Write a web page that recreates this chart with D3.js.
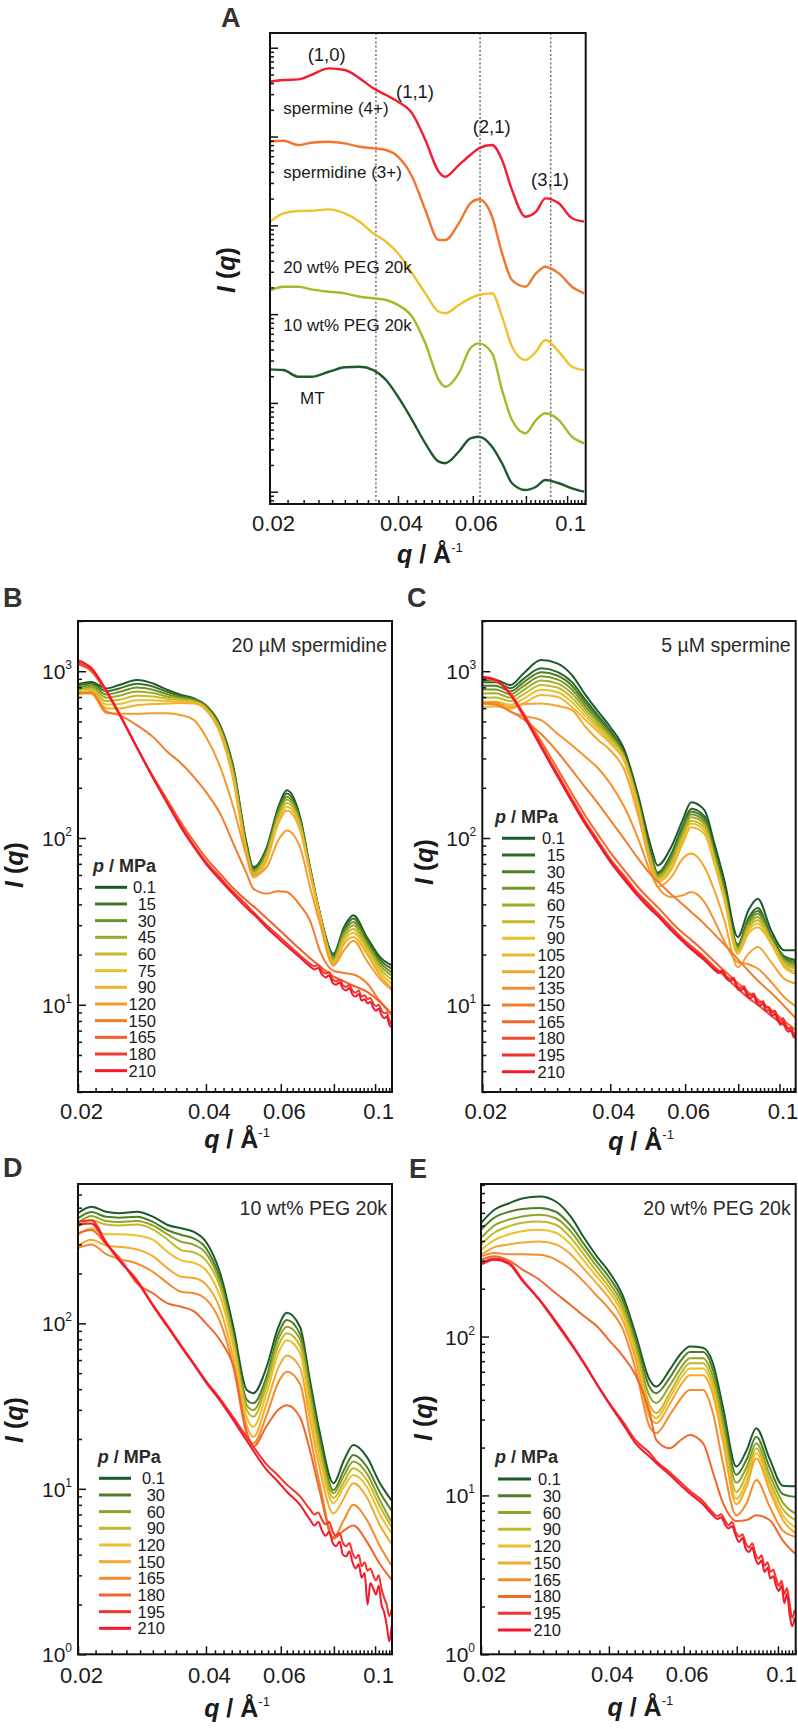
<!DOCTYPE html>
<html><head><meta charset="utf-8">
<script src="https://cdn.jsdelivr.net/npm/d3@7"></script>
<style>body{margin:0;background:#fff}svg{display:block}</style>
</head><body><svg id="c" width="798" height="1729"></svg>
<script>
// ---------- shared q grid (Å^-1) ----------
const qGrid = [0.020,0.0215,0.0233,0.025,0.0275,0.030,0.0325,0.035,0.0375,0.040,0.0432,0.0464,0.0499,0.0517,0.0556,0.0592,0.062,0.0666,0.0703,0.0742,0.0798,0.0845,0.0889,0.0956,0.1027,0.1097];
// finer q grid for the noisy high-q tails of the high-pressure curves (starts at 0.0703)
const qTail = [0.0703,0.072,0.0735,0.075,0.0765,0.078,0.0795,0.081,0.0825,0.084,0.0855,0.087,0.0885,0.09,0.0915,0.093,0.0945,0.096,0.0975,0.099,0.1005,0.102,0.1035,0.105,0.1065,0.108,0.1095];
const xTickValues = [0.02,0.04,0.06,0.08,0.1];
const xTickLabels = ["0.02","0.04","0.06","","0.1"];

// ---------- Panel A (log10 of offset intensity) ----------
const A_names = ["spermine (4+)","spermidine (3+)","20 wt% PEG 20k","10 wt% PEG 20k","MT"];
const A_spermine = [4.617,4.636,4.644,4.693,4.768,4.749,4.655,4.543,4.467,4.392,4.261,3.961,3.604,3.547,3.679,3.792,3.867,3.904,3.735,3.398,3.097,3.153,3.304,3.248,3.079,3.041];
const A_spermidine = [3.941,3.953,3.904,3.930,3.941,3.923,3.885,3.867,3.848,3.773,3.547,3.172,2.834,2.834,3.022,3.248,3.293,3.097,2.685,2.384,2.309,2.459,2.534,2.459,2.309,2.234];
const A_peg20 = [3.041,3.135,3.161,3.164,3.180,3.135,3.041,2.910,2.815,2.685,2.459,2.234,2.027,2.009,2.102,2.178,2.215,2.234,1.971,1.633,1.483,1.577,1.708,1.577,1.408,1.370];
const A_peg10 = [2.268,2.309,2.309,2.279,2.252,2.234,2.196,2.178,2.159,2.102,1.971,1.671,1.258,1.182,1.333,1.615,1.671,1.559,1.145,0.807,0.658,0.807,0.883,0.807,0.619,0.545];
const A_mt = [1.378,1.370,1.295,1.295,1.351,1.401,1.408,1.370,1.258,1.070,0.807,0.545,0.338,0.320,0.450,0.601,0.619,0.507,0.320,0.095,0.019,0.056,0.132,0.095,0.038,0.0];
const A_peakLabels = ["(1,0)","(1,1)","(2,1)","(3,1)"];
const A_dottedQ = [0.0355,0.0624,0.0915];

// ---------- Panel B: 20 µM spermidine ----------
const B_p = ["0.1","15","30","45","60","75","90","120","150","165","180","210"];
const B_01 = [837,863,788,826,885,845,771,720,687,626,475,267,92,67,88,153,193,134,67,35.2,20.2,29.2,34.4,25.5,19.3,17.2];
const B_15 = [820,843,757,788,842,810,749,707,679,619,466,260,90,65.5,85.6,148,185,130,66,35,19.7,28.2,32.9,24.6,18.6,16.4];
const B_30 = [802,822,725,750,799,775,727,695,671,612,458,252,87,64,83.2,143,177,126,65,34.7,19.2,27.2,31.4,23.7,17.9,15.6];
const B_45 = [784,802,694,712,756,740,705,682,663,605,449,244,85,62.5,80.8,137,170,122,64,34.4,18.7,26.2,30,22.9,17.2,14.9];
const B_60 = [766,781,663,674,712,705,684,670,656,599,440,237,82,61,78.3,132,162,119,63,34.1,18.2,25.2,28.5,22,16.4,14.1];
const B_75 = [748,761,631,636,669,670,662,657,648,592,432,229,80,59.5,75.9,127,154,115,62,33.9,17.7,24.2,27,21.1,15.7,13.3];
const B_90 = [730,740,600,598,626,635,640,645,640,585,423,222,77,58,73.5,122,146,111,61,33.6,17.2,23.2,25.5,20.2,15,12.5];
const B_120 = [740,735,561,555,555,560,560,545,509,404,267,153,77,59.7,67,97,111,88,50.8,30.6,17.2,21.2,24.2,18.4,14.3,12.2];
const B_150 = [736,745,575,545,475,404,328,280,232,189,140,92.5,61,49.7,46.4,48,47.4,39.5,32,21,16,15.5,15.2,13.5,10.5,8.8];
const B_165 = [1100,1000,750,550,350,235,168,123,95,76,61,50,42,39,33,28.5,25.5,21.5,19,17,14.8,13.8,13,12,10.4,8.6];
// high-pressure curves: low-q part on qGrid (up to 0.0703) + noisy tail on qTail
const B_180 = [1130,1020,760,555,350,232,163,118,90,72,58,47.5,39.5,36,30,26,23.3,19.8,17.6];
const B_180_tail = [17.6,17,17.3,16,15.4,15.7,14.2,13.8,14.2,13.1,12.8,13.2,12.1,11.8,12.2,11.2,11.4,10.8,11,10.2,9.8,10,9.3,8.9,9,8.1,7.6];
const B_210 = [1166,1045,771,560,350,230,160,115,88,70,56,46,38,35,29,25,22.5,19.2,17];
const B_210_tail = [17,16.3,16.6,15.2,14.6,15,13.5,13.2,13.6,12.5,12.2,12.6,11.5,11.2,11.6,10.6,10.8,10.2,10.4,9.6,9.2,9.5,8.7,8.3,8.5,7.6,7.3];

// ---------- Panel C: 5 µM spermine ----------
const C_p = ["0.1","15","30","45","60","75","90","105","120","135","150","165","180","195","210"];
const C_01 = [885,885,826,970,1166,1114,948,719,570,463,336,185,88,68.5,88,128,164,147,92.5,55.7,25.5,36.8,43.3,27.9,21.2,21.2];
const C_15 = [860,860,790,900,1040,990,860,670,540,440,320,175,80,62,80,118,150,135,85,50,23,33,38,26,19.5,18.5];
const C_30 = [819,819,758,857,987,942,819,643,522,428,314,171,78,60.8,77.3,114,144,130,82.5,48.7,22.5,32,36.5,25.5,19,18];
const C_45 = [777,778,726,814,933,894,777,616,504,416,309,168,76,59.5,74.7,110,139,125,80,47.4,22.1,30.9,35.1,25.1,18.6,17.4];
const C_60 = [736,737,694,771,880,846,736,590,486,405,303,164,73.5,58.3,72,105,133,121,77.5,46.2,21.6,29.9,33.6,24.6,18.2,16.9];
const C_75 = [694,696,662,727,827,798,694,563,468,393,297,160,71,57,69.3,101,127,116,75,44.9,21.1,28.8,32.1,24.1,17.7,16.4];
const C_90 = [653,655,630,684,773,750,653,536,450,381,292,157,69,55.8,66.7,97,122,111,72.5,43.6,20.7,27.8,30.7,23.7,17.3,15.8];
const C_105 = [611,614,598,641,720,702,611,509,432,369,286,153,67,54.5,64,92.5,116,106,70,42.3,20.2,26.7,29.2,23.2,16.8,15.3];
const C_120 = [640,640,610,635,641,620,585,463,386,336,255,140,67,51,58,75.1,80.6,67,48.5,32.1,16.8,20.2,22.2,18,14.3,13.4];
const C_135 = [650,650,570,540,509,423,360,306,261,212,153,101,61,51,44.3,45.3,47.4,41.3,32,24,18,17.5,16.5,13.7,11.1,9.7];
const C_150 = [640,630,575,515,420,330,255,200,160,128,98,76,60,55,46,40,36,30.5,26.5,23,18.8,16,14,11.8,9.8,8.2];
const C_165 = [900,870,740,560,380,262,185,135,104,82,64,51,42,38.5,31.5,27,24.5,20.8,18.2,16,13.5,11.9,10.8,9.3,8,7.0];
const C_180 = [915,880,730,550,362,245,172,125,96,75,59,47,39,35.5,29.3,25,22.5,19.3,16.9,14.9,12.5,11,10,8.6,7.5,6.6];
const C_195 = [920,885,725,545,355,240,168,122,94,73.5,57.5,46,38,34.7,28.6,24.5,22,18.9,16.5];
const C_195_tail = [16.5,15.9,16.1,14.8,14.3,14.5,13,12.6,12.9,11.7,11.4,11.7,10.6,10.3,10.5,9.6,9.7,9.0,9.2,8.5,8.0,8.3,7.6,7.2,7.3,6.7,6.4];
const C_210 = [925,890,720,540,350,235,165,120,92,72,56,45,37,34,28,24,21.5,18.5,16.2];
const C_210_tail = [16.2,15.5,15.8,14.4,13.9,14.2,12.6,12.2,12.5,11.3,11,11.3,10.2,9.9,10.1,9.2,9.3,8.6,8.8,8.1,7.6,7.9,7.2,6.9,7.0,6.4,6.3];

// ---------- Panel D: 10 wt% PEG 20k ----------
const D_p = ["0.1","30","60","90","120","150","165","180","195","210"];
const D_01 = [463,507,472,463,472,441,393,375,357,311,201,95,39.5,37.8,54.7,95,116,95,45,21.6,10.8,14.9,18.4,15.6,10.8,8.4];
const D_30 = [431,470,440,435,440,410,365,342,325,285,185,85,34.5,32.9,48,86,104.7,86,41,19.5,9.8,13,16,13.6,9.5,7.3];
const D_60 = [405,445,415,410,415,390,345,311,298,265,175,82,32,29.9,45,80,95.4,80,38,18,9.4,12,14.6,12.4,8.5,6.2];
const D_90 = [384,420,395,390,395,370,320,277,268,240,165,78,30,27.3,42,73,87,73,34,16.5,8.8,11,13.3,11.3,7.8,5.8];
const D_120 = [342,375,345,345,340,320,270,240,232,210,145,72,27,23.7,38,66,79,66,30,15,8.2,10.3,12.1,10.3,7,5.3];
const D_150 = [295,320,295,290,280,255,215,191,188,172,122,62,24,20.6,33,54,64,54,26,13,7.1,8.8,10.8,8.9,6,4.6];
const D_165 = [285,300,262,245,230,205,175,155,152,140,102,55,21.5,18.8,28,44,51,43,21,10.5,5.1,6.5,8,6.5,4.5,3.4];
const D_180 = [350,366,300,250,175,152,132,126,118,100,79,55,22,18,24,30,32,27,17,9.5,5,5.6,6,4.8,3.5,2.8];
const D_195 = [410,420,310,243,183,130,97,73.5,57,45,35,27,20.5,18,14,12,10.6,9,7.5];
const D_195_tail = [7.5,7.0,7.2,6.5,6.1,6.3,5.5,5.2,5.4,4.7,4.5,4.7,4.1,3.8,4.0,3.4,3.6,3.2,3.3,3.0,2.8,3.0,2.5,2.2,2.0,1.7,1.9];
const D_210 = [393,401,304,240,180,128,95,72,56,44,34,26,19.5,17,13,11,9.6,8,6.5];
const D_210_tail = [6.5,6.0,6.3,5.6,5.2,5.5,4.7,4.5,4.8,4.0,3.9,4.2,3.6,3.3,3.5,2.9,3.1,2.0,2.7,2.5,2.3,2.6,2.0,1.8,1.5,1.2,1.5];

// ---------- Panel E: 20 wt% PEG 20k ----------
const E_p = ["0.1","30","60","90","120","150","165","180","195","210"];
const E_01 = [518,628,690,740,762,708,570,417,319,256,179,100,53.3,48.4,61.7,78.5,86.5,85,67.9,36.2,15.2,19.4,26.5,17,11.5,11.4];
const E_30 = [470,560,610,635,644,610,500,380,295,237,167,93,48,44,55,71,80,80,62,32,13.5,17,23.4,15,10.2,9.8];
const E_60 = [417,500,545,570,584,555,460,352,275,220,155,86,42,38.1,49,64,73,73,56,29,12,15.2,21.3,13.5,9,7.7];
const E_90 = [378,450,495,520,530,505,420,325,255,205,145,80,37,33,44,59,68,68,51,26,10.5,13.8,19.8,12.4,8.2,7.0];
const E_120 = [351,405,440,460,470,450,380,298,237,192,136,75,34,30.7,41,55,63,63,47,24,9.5,12.5,18.4,11.5,7.5,6.3];
const E_150 = [327,365,380,390,397,380,330,265,215,175,125,69,31,28.5,37.5,50,57,57,43,22,8.8,11.5,17.1,10.7,7,5.8];
const E_165 = [319,335,330,330,327,305,265,220,180,150,110,60,27,24.6,32,41,46,46,33,16,7.5,9,12.5,8.5,6.0,5.5];
const E_180 = [304,320,300,265,227,187,158,134,116,95,75,56,33,22.4,19.8,22.4,24,21.3,14,9,6.9,7.0,7.5,7.0,5.2,4.3];
const E_195 = [290,310,292,230,168,122,90,67,50,38.5,29,22,18.5,16.5,14,12,10.7,9.2,7.8];
const E_195_tail = [7.8,7.4,7.6,7.0,6.5,6.8,5.9,5.5,5.7,5.0,4.7,5.0,4.3,4.0,4.2,3.6,3.8,3.3,3.4,3.0,2.7,2.9,2.4,2.6,2.1,1.7,1.9];
const E_210 = [283,304,285,225,170,125,92,68,50,38,28,21,17.5,16,13.5,11.5,10.3,8.8,7.5];
const E_210_tail = [7.5,7.1,7.3,6.6,6.2,6.4,5.6,5.1,5.4,4.6,4.4,4.7,4.0,3.7,3.9,3.3,3.5,3.0,3.1,2.7,2.5,2.7,2.1,2.4,1.8,1.5,1.7];

// ---------- colours ----------
const colB = ["#1b5a2b","#3f7426","#6e8f29","#9aab2c","#c5ba29","#e7c22a","#f1b02d","#f59b2d","#f47c2a","#f45c2b","#f3382c","#f7162b"];
const colC = ["#1b5a2b","#2e6a27","#4e7e26","#779629","#a0ad2c","#c4ba29","#e5c12a","#eeb62c","#f3a52d","#f5922c","#f47d2b","#f4672b","#f34a2c","#f32f2c","#f7162b"];
const colDE = ["#1b5a2b","#4e7e26","#8ea42b","#c2b829","#ecc02a","#f3a92d","#f58b2b","#f4652b","#f3342c","#f7162b"];
const colA = ["#f31c30","#f4742b","#eec22c","#a8b82b","#1f5a2d"];

// ---------- helpers ----------
const FONT = '"Liberation Sans", Arial, Helvetica, sans-serif';
const svg = d3.select("#c");
svg.append("rect").attr("width",798).attr("height",1729).attr("fill","#fff");

// series on the main grid
const S = v => ({q: qGrid, v});
// series = head on qGrid (to 0.0703) + noisy tail on qTail
const ST = (head, tail) => ({q: qGrid.slice(0, head.length).concat(qTail.slice(1)), v: head.concat(tail.slice(1))});

function txt(g, x, y, s, size, opts={}) {
  return g.append("text").attr("x",x).attr("y",y).text(s)
    .attr("font-family",FONT).attr("font-size",size).attr("fill",opts.fill||"#222")
    .attr("text-anchor",opts.anchor||"start").attr("font-weight",opts.weight||"normal");
}

function drawPanel(o) {
  const x = d3.scaleLog().domain(o.xd).range([o.l, o.r]);
  const y = d3.scaleLog().domain(o.yd).range([o.b, o.t]);
  const g = svg.append("g");
  const cid = "clip" + o.id;
  svg.append("clipPath").attr("id", cid).append("rect")
    .attr("x", o.l).attr("y", o.t).attr("width", o.r - o.l).attr("height", o.b - o.t);

  if (o.vlines) o.vlines.forEach(v => g.append("line")
      .attr("x1", x(v)).attr("x2", x(v)).attr("y1", o.t).attr("y2", o.b)
      .attr("stroke", "#707070").attr("stroke-width", 1.5).attr("stroke-dasharray", "2,2.2"));

  const tf = o.tf || (d => d);
  const lg = g.append("g").attr("clip-path", `url(#${cid})`);
  o.series.forEach((s, i) => {
    const pts = s.v.map((v, j) => [s.q[j], v]);
    const line = d3.line().x(d => x(d[0])).y(d => y(tf(d[1]))).curve(d3.curveMonotoneX);
    lg.append("path").attr("d", line(pts)).attr("fill", "none")
      .attr("stroke", o.colors[i]).attr("stroke-width", o.lw).attr("stroke-linejoin", "round");
  });

  // x axis: minor ticks every 0.002, major every 0.02
  const minorX = d3.range(10, 60).filter(k => k % 10 !== 0).map(k => k / 500).filter(v => v <= o.xd[1]);
  const ax1 = g.append("g").attr("transform", `translate(0,${o.b})`)
    .call(d3.axisBottom(x).tickValues(minorX).tickSize(-4).tickFormat(""));
  ax1.select(".domain").remove();
  const ax2 = g.append("g").attr("transform", `translate(0,${o.b})`)
    .call(d3.axisBottom(x).tickValues(xTickValues).tickSize(-8).tickPadding(o.xpad || 11)
      .tickFormat((v, i) => xTickLabels[i]));
  ax2.select(".domain").remove();
  ax2.selectAll("text").attr("font-family", FONT).attr("font-size", 22).attr("fill", "#1a1a1a").attr("dx", 3);
  [ax1, ax2].forEach(a => a.selectAll("line").attr("stroke", "#111").attr("stroke-width", 1.5));

  // y axis: log ticks
  const k0 = Math.floor(Math.log10(o.yd[0])), k1 = Math.ceil(Math.log10(o.yd[1]));
  const minorY = [], majorY = [];
  for (let k = k0; k <= k1; k++) {
    const b = Math.pow(10, k);
    if (b >= o.yd[0] * 0.999 && b <= o.yd[1]) majorY.push(b);
    for (let m = 2; m <= 9; m++) { const v = m * b; if (v >= o.yd[0] && v <= o.yd[1]) minorY.push(v); }
  }
  const ay1 = g.append("g").attr("transform", `translate(${o.l},0)`)
    .call(d3.axisLeft(y).tickValues(minorY).tickSize(-4).tickFormat(""));
  ay1.select(".domain").remove();
  const ay2 = g.append("g").attr("transform", `translate(${o.l},0)`)
    .call(d3.axisLeft(y).tickValues(majorY).tickSize(-8).tickFormat(""));
  ay2.select(".domain").remove();
  [ay1, ay2].forEach(a => a.selectAll("line").attr("stroke", "#111").attr("stroke-width", 1.5));
  if (o.ylabels) {
    majorY.forEach(v => {
      const t = g.append("text").attr("x", o.l - 6).attr("y", y(v) + 8)
        .attr("font-family", FONT).attr("text-anchor", "end").attr("fill", "#1a1a1a");
      t.append("tspan").attr("font-size", 21).text("10");
      t.append("tspan").attr("font-size", 12).attr("dy", -10).text(String(Math.round(Math.log10(v))));
    });
  }

  // frame
  g.append("rect").attr("x", o.l).attr("y", o.t).attr("width", o.r - o.l).attr("height", o.b - o.t)
    .attr("fill", "none").attr("stroke", "#111").attr("stroke-width", 2);

  // x title
  const xt = g.append("text").attr("x", (o.l + o.r) / 2 + 2).attr("y", o.b + o.xtOff)
    .attr("text-anchor", "middle").attr("font-family", FONT).attr("font-weight", "bold")
    .attr("font-size", 25).attr("fill", "#1a1a1a");
  xt.append("tspan").attr("font-style", "italic").text("q");
  xt.append("tspan").text(" / Å");
  xt.append("tspan").attr("font-size", 13).attr("font-weight", "normal").attr("dy", -11).text("-1");

  // y title
  const yt = g.append("text").attr("transform", `translate(${o.ytx + 7},${o.yty}) rotate(-90)`)
    .attr("text-anchor", "middle").attr("font-family", FONT).attr("font-weight", "bold")
    .attr("font-size", 25).attr("fill", "#1a1a1a");
  yt.append("tspan").attr("font-style", "italic").text("I");
  yt.append("tspan").text(" (");
  yt.append("tspan").attr("font-style", "italic").text("q");
  yt.append("tspan").text(")");

  // panel letter
  txt(g, o.letterX, o.letterY, o.letter, 27, {weight: "bold", fill: "#333"});

  // annotation top-right
  if (o.note) txt(g, o.r - 5, o.t + 31, o.note, 19.5, {anchor: "end", fill: "#2a2a2a"});

  // legend
  if (o.leg) {
    const L = o.leg;
    const tt = g.append("text").attr("x", L.x).attr("y", L.y0 - L.step * 1.3 + 6)
      .attr("font-family", FONT).attr("font-weight", "bold").attr("font-size", 18).attr("fill", "#2a2a2a");
    tt.append("tspan").attr("font-style", "italic").text("p");
    tt.append("tspan").text(" / MPa");
    o.legLabels.forEach((s, i) => {
      const yy = L.y0 + i * L.step;
      g.append("line").attr("x1", L.x1).attr("x2", L.x2).attr("y1", yy).attr("y2", yy)
        .attr("stroke", o.colors[i]).attr("stroke-width", 3);
      txt(g, L.tx, yy + 6, s, 16.5, {anchor: "end", fill: "#1a1a1a"});
    });
  }
  return {x, y, g};
}

// Panel A
const pA = drawPanel({
  id: "A", l: 270, r: 585.7, t: 33, b: 504, xd: [0.02, 0.1106], yd: [Math.pow(10, -0.1385), Math.pow(10, 5.166)],
  series: [A_spermine, A_spermidine, A_peg20, A_peg10, A_mt].map(S), colors: colA, lw: 2.4,
  tf: d => Math.pow(10, d), vlines: A_dottedQ, ylabels: false,
  xtOff: 59, ytx: 228, yty: 270, letter: "A", letterX: 221, letterY: 27
});
[[326.7, 61], [415, 98], [491.7, 133], [550, 186]].forEach((p, i) =>
  txt(pA.g, p[0], p[1], A_peakLabels[i], 18.5, {anchor: "middle", fill: "#1a1a1a"}));
[[283.3, 114], [283.3, 177.5], [283.3, 272.5], [283.3, 331], [300, 404]].forEach((p, i) =>
  txt(pA.g, p[0], p[1], A_names[i], 17, {fill: "#1a1a1a"}));

// Panel B
drawPanel({
  id: "B", l: 78, r: 392, t: 621, b: 1092, xd: [0.02, 0.1096], yd: [3, 2000],
  series: [S(B_01),S(B_15),S(B_30),S(B_45),S(B_60),S(B_75),S(B_90),S(B_120),S(B_150),S(B_165),ST(B_180,B_180_tail),ST(B_210,B_210_tail)],
  colors: colB, lw: 2,
  ylabels: true, xtOff: 56, ytx: 16, yty: 865, letter: "B", letterX: 3, letterY: 607,
  note: "20 µM spermidine", legLabels: B_p,
  leg: {x: 93, y0: 887.3, step: 16.67, x1: 95, x2: 127, tx: 156}
});
// Panel C
drawPanel({
  id: "C", l: 482.3, r: 795.7, t: 621, b: 1092, xd: [0.02, 0.1092], yd: [3, 2000],
  series: [S(C_01),S(C_15),S(C_30),S(C_45),S(C_60),S(C_75),S(C_90),S(C_105),S(C_120),S(C_135),S(C_150),S(C_165),S(C_180),ST(C_195,C_195_tail),ST(C_210,C_210_tail)],
  colors: colC, lw: 2,
  ylabels: true, xtOff: 58, ytx: 426, yty: 862, letter: "C", letterX: 407, letterY: 607,
  note: "5 µM spermine", legLabels: C_p,
  leg: {x: 495, y0: 838.3, step: 16.67, x1: 502, x2: 535, tx: 565}
});
// Panel D
drawPanel({
  id: "D", l: 78, r: 392, t: 1184, b: 1654.3, xd: [0.02, 0.1096], yd: [1, 695],
  series: [S(D_01),S(D_30),S(D_60),S(D_90),S(D_120),S(D_150),S(D_165),S(D_180),ST(D_195,D_195_tail),ST(D_210,D_210_tail)],
  colors: colDE, lw: 2,
  ylabels: true, xtOff: 63, xpad: 13, ytx: 16, yty: 1420, letter: "D", letterX: 3, letterY: 1177,
  note: "10 wt% PEG 20k", legLabels: D_p,
  leg: {x: 97.7, y0: 1478.3, step: 16.67, x1: 99, x2: 131, tx: 165}
});
// Panel E
drawPanel({
  id: "E", l: 481, r: 795.7, t: 1184, b: 1654.3, xd: [0.02, 0.1101], yd: [1, 912],
  series: [S(E_01),S(E_30),S(E_60),S(E_90),S(E_120),S(E_150),S(E_165),S(E_180),ST(E_195,E_195_tail),ST(E_210,E_210_tail)],
  colors: colDE, lw: 2,
  ylabels: true, xtOff: 62, xpad: 12, ytx: 425, yty: 1418, letter: "E", letterX: 409, letterY: 1178,
  note: "20 wt% PEG 20k", legLabels: E_p,
  leg: {x: 495, y0: 1479, step: 16.78, x1: 498, x2: 531, tx: 561}
});
</script></body></html>
